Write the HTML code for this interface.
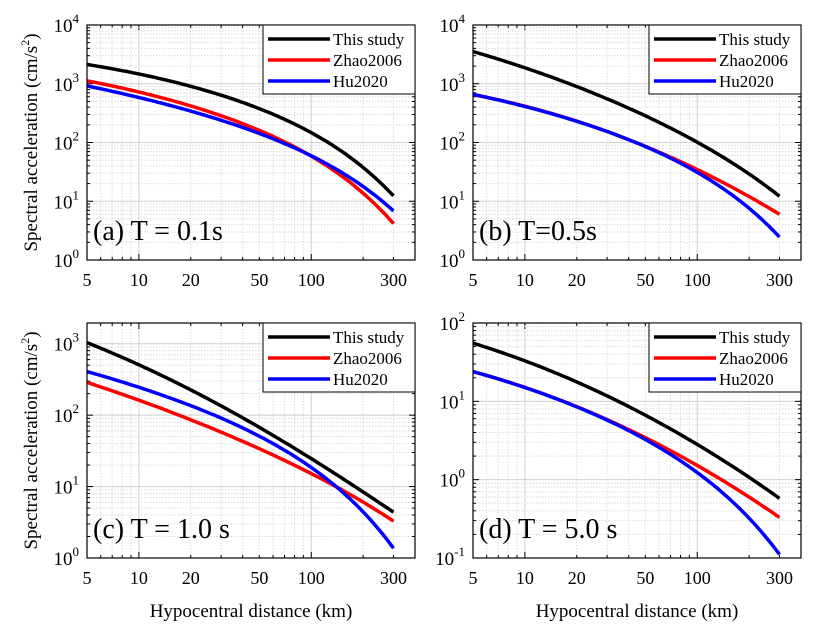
<!DOCTYPE html>
<html><head><meta charset="utf-8"><style>
body{margin:0;background:#fff;width:840px;height:630px;overflow:hidden}
svg,text{font-family:"Liberation Serif","Times New Roman",serif}
</style></head><body>
<svg id="s" width="840" height="630" xmlns="http://www.w3.org/2000/svg" font-family="Liberation Serif, serif"></svg>
<script>
const S=document.getElementById('s');let h='';
const W=328,H=235,xmin=Math.log10(5),xmax=Math.log10(400);
const panels=[
 {L:87,T:25,y0:0,y1:4,lab:'(a) T = 0.1s',
  d:[[[5,2100],[10,1500],[20,900],[50,380],[100,140],[200,40],[300,12]],
     [[5,1100],[10,750],[20,420],[50,160],[100,55],[200,15],[300,4]],
     [[5,900],[10,600],[20,350],[50,140],[100,55],[200,20],[300,6.5]]]},
 {L:473,T:25,y0:0,y1:4,lab:'(b) T=0.5s',
  d:[[[5,3500],[10,1900],[20,900],[50,280],[100,100],[200,30],[300,12]],
     [[5,650],[10,420],[20,230],[50,85],[100,35],[200,12],[300,6]],
     [[5,650],[10,420],[20,230],[50,85],[100,30],[200,8],[300,2.4]]]},
 {L:87,T:323,y0:0,y1:Math.log10(1950),lab:'(c) T = 1.0 s',
  d:[[[5,1050],[10,500],[20,220],[50,70],[100,25],[200,8],[300,4.5]],
     [[5,290],[10,160],[20,85],[50,35],[100,15],[200,6],[300,3.3]],
     [[5,400],[10,250],[20,140],[50,50],[100,17],[200,5],[300,1.3]]]},
 {L:473,T:323,y0:-1,y1:2,lab:'(d) T = 5.0 s',
  d:[[[5,55],[10,33],[20,18],[50,6.5],[100,2.8],[200,1.1],[300,0.57]],
     [[5,24],[10,15],[20,8.5],[50,3.5],[100,1.5],[200,0.6],[300,0.33]],
     [[5,24],[10,15],[20,8.5],[50,3.3],[100,1.2],[200,0.33],[300,0.11]]]}
];
function fit(pts){ // least squares log10 y = a + b log10 x + c x + d (log x)^2
 const B=x=>[1,Math.log10(x),x/100,Math.pow(Math.log10(x),2)];const n=4;
 const A=[...Array(n)].map(()=>Array(n+1).fill(0));
 pts.forEach(([x,y])=>{const f=B(x),t=Math.log10(y);for(let i=0;i<n;i++){for(let j=0;j<n;j++)A[i][j]+=f[i]*f[j];A[i][n]+=f[i]*t;}});
 for(let i=0;i<n;i++){let m=i;for(let k=i+1;k<n;k++)if(Math.abs(A[k][i])>Math.abs(A[m][i]))m=k;[A[i],A[m]]=[A[m],A[i]];
  for(let k=0;k<n;k++)if(k!=i){const r=A[k][i]/A[i][i];for(let j=i;j<=n;j++)A[k][j]-=r*A[i][j];}}
 const c=A.map((r,i)=>r[n]/r[i]);return x=>{const f=B(x);return Math.pow(10,f.reduce((s,v,i)=>s+v*c[i],0));};
}
const cols=['#000','#f00','#00f'],names=['This study','Zhao2006','Hu2020'];
panels.forEach(p=>{
 const X=v=>p.L+(Math.log10(v)-xmin)/(xmax-xmin)*W;
 const Y=v=>p.T+H-(Math.log10(v)-p.y0)/(p.y1-p.y0)*H;
 for(let e=0;e<3;e++)for(let m=1;m<10;m++){const v=m*Math.pow(10,e);if(v<5||v>400)continue;const x=X(v);
  h+=`<line x1="${x}" y1="${p.T}" x2="${x}" y2="${p.T+H}" stroke="${m==1?'#d0d0d0':'#dcdcdc'}" stroke-width="1" ${m==1?'':'stroke-dasharray="1.5,1.5"'}/>`;
  h+=`<line x1="${x}" y1="${p.T+H}" x2="${x}" y2="${p.T+H-(m==1?6:3)}" stroke="#000"/><line x1="${x}" y1="${p.T}" x2="${x}" y2="${p.T+(m==1?6:3)}" stroke="#000"/>`;}
 for(let e=Math.floor(p.y0);e<Math.ceil(p.y1);e++)for(let m=1;m<10;m++){const lv=e+Math.log10(m);if(lv<p.y0||lv>p.y1)continue;const y=Y(Math.pow(10,lv));
  h+=`<line x1="${p.L}" y1="${y}" x2="${p.L+W}" y2="${y}" stroke="${m==1?'#d0d0d0':'#dcdcdc'}" ${m==1?'':'stroke-dasharray="1.5,1.5"'}/>`;
  h+=`<line x1="${p.L}" y1="${y}" x2="${p.L+(m==1?6:3)}" y2="${y}" stroke="#000"/><line x1="${p.L+W}" y1="${y}" x2="${p.L+W-(m==1?6:3)}" y2="${y}" stroke="#000"/>`;}
 for(let e=Math.ceil(p.y0);e<=Math.floor(p.y1);e++){const y=Y(Math.pow(10,e));
  h+=`<text x="${p.L-8}" y="${y+7}" font-size="19" text-anchor="end">10<tspan font-size="13" dy="-9">${e}</tspan></text>`;}
 [5,10,20,50,100,300].forEach(v=>{h+=`<text x="${X(v)}" y="${p.T+H+26}" font-size="18" text-anchor="middle">${v}</text>`;});
 p.d.forEach((pts,i)=>{const f=fit(pts);let d='';
  for(let k=0;k<=120;k++){const x=Math.pow(10,Math.log10(5)+k/120*Math.log10(60));d+=(k?'L':'M')+X(x).toFixed(1)+','+Y(f(x)).toFixed(1);}
  h+=`<path d="${d}" fill="none" stroke="${cols[i]}" stroke-width="3.5"/>`;});
 h+=`<rect x="${p.L}" y="${p.T}" width="${W}" height="${H}" fill="none" stroke="#000" stroke-width="1.2"/>`;
 const lx=p.L+W-152;h+=`<rect x="${lx}" y="${p.T}" width="152" height="69" fill="#fff" stroke="#000" stroke-width="1"/>`;
 names.forEach((n,i)=>{const y=p.T+14+i*21;h+=`<line x1="${lx+5}" y1="${y}" x2="${lx+67}" y2="${y}" stroke="${cols[i]}" stroke-width="3.5"/><text x="${lx+70}" y="${y+6}" font-size="17">${n}</text>`;});
 h+=`<text x="${p.L+6}" y="${p.T+H-20}" font-size="28">${p.lab}</text>`;
});
[25,323].forEach(t=>{const cy=t+H/2;h+=`<text transform="translate(37,${cy}) rotate(-90)" font-size="19" text-anchor="middle">Spectral acceleration (cm/s<tspan font-size="12" dy="-8">2</tspan><tspan dy="8">)</tspan></text>`;});
[251,637].forEach(x=>{h+=`<text x="${x}" y="617" font-size="19" text-anchor="middle">Hypocentral distance (km)</text>`;});
S.innerHTML=h;
</script>
</body></html>
